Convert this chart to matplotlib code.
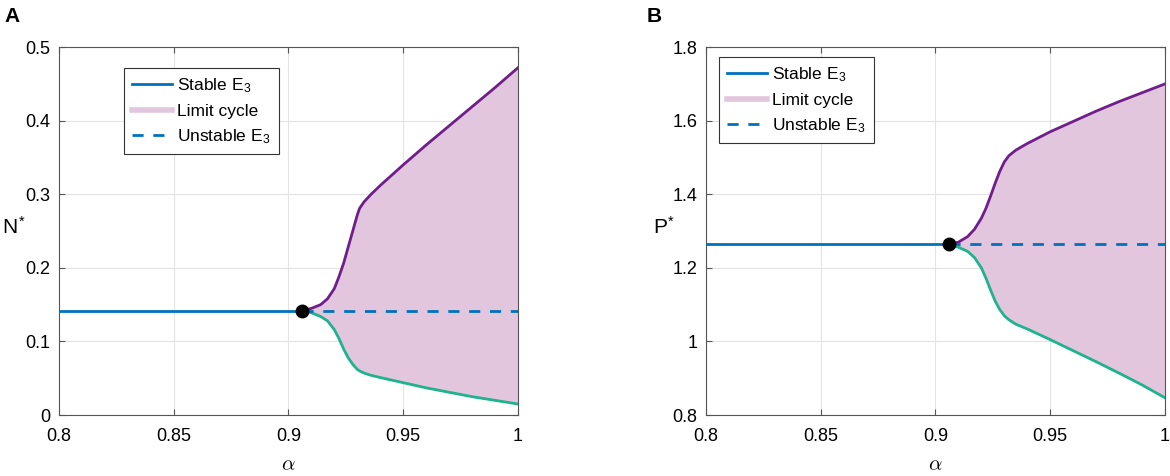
import matplotlib
matplotlib.use('Agg')
import matplotlib.pyplot as plt
from matplotlib.lines import Line2D

plt.rcParams['font.family'] = ['Liberation Sans', 'DejaVu Sans']
plt.rcParams['mathtext.fontset'] = 'cm'

# equilibrium values and Hopf point
alpha_stable = [0.8, 0.906]
alpha_unstable = [0.906, 1.0]
alpha_hopf = 0.906
N_eq = 0.142
P_eq = 1.264

# panel A: limit cycle bounds of N
alpha_N_up = [0.906, 0.910, 0.914, 0.917, 0.920, 0.922, 0.924, 0.926, 0.928, 0.930,
              0.931, 0.933, 0.936, 0.940, 0.950, 0.960, 0.970, 0.980, 0.990, 1.000]
N_up = [0.142, 0.145, 0.150, 0.158, 0.172, 0.188, 0.206, 0.228, 0.250, 0.272,
        0.281, 0.290, 0.300, 0.312, 0.340, 0.367, 0.393, 0.419, 0.445, 0.472]
N_low = [0.142, 0.139, 0.134, 0.128, 0.116, 0.104, 0.090, 0.078, 0.069, 0.062,
         0.060, 0.057, 0.054, 0.051, 0.044, 0.037, 0.031, 0.025, 0.020, 0.015]

# panel B: limit cycle bounds of P
alpha_P = [0.906, 0.910, 0.914, 0.917, 0.920, 0.922, 0.924, 0.926, 0.928, 0.930,
           0.932, 0.935, 0.940, 0.950, 0.960, 0.970, 0.980, 0.990, 1.000]
P_up = [1.264, 1.270, 1.285, 1.305, 1.335, 1.362, 1.395, 1.430, 1.462, 1.488,
        1.505, 1.520, 1.538, 1.570, 1.598, 1.626, 1.652, 1.676, 1.700]
P_low = [1.264, 1.256, 1.245, 1.228, 1.200, 1.172, 1.140, 1.110, 1.087, 1.070,
         1.059, 1.047, 1.034, 1.005, 0.975, 0.945, 0.914, 0.882, 0.847]

blue = '#0072BD'
purple = '#6F1E8A'
teal = '#1DB38C'
pink = '#E2C6DD'

fig = plt.figure(figsize=(11.7, 4.76), dpi=100)
axA = fig.add_axes([0.0504, 0.128, 0.3923, 0.773])
axB = fig.add_axes([0.6034, 0.128, 0.3923, 0.773])


def draw(ax, a, up, low, eq, ylim, yticks, yticklabels, ylab, ylab_x, leg_xy):
    ax.fill_between(a, low, up, color=pink, lw=0, zorder=1)
    ax.plot(a, up, color=purple, lw=2, zorder=3)
    ax.plot(a, low, color=teal, lw=2, zorder=3)
    ax.plot(alpha_stable, [eq, eq], color=blue, lw=2, zorder=4)
    ax.plot(alpha_unstable, [eq, eq], color=blue, lw=2, ls=(0, (4, 3.5)), zorder=4)
    ax.plot([alpha_hopf], [eq], 'o', color='black', ms=9, zorder=5)
    ax.set_xlim(0.8, 1.0)
    ax.set_ylim(*ylim)
    ax.set_xticks([0.8, 0.85, 0.9, 0.95, 1.0])
    ax.set_xticklabels(['0.8', '0.85', '0.9', '0.95', '1'])
    ax.set_yticks(yticks)
    ax.set_yticklabels(yticklabels)
    ax.grid(True, color='#E3E3E3', lw=0.8, zorder=0)
    ax.set_axisbelow(True)
    ax.tick_params(direction='in', length=4, labelsize=13, top=True, right=True,
                   color='#555555')
    ax.tick_params(axis='x', pad=9)
    ax.tick_params(axis='y', pad=6)
    for s in ax.spines.values():
        s.set_color('#555555')
        s.set_linewidth(0.8)
    ax.set_xlabel(r'$\alpha$', fontsize=15, labelpad=8)
    ax.set_ylabel(ylab, fontsize=15, rotation=0, ha='center', va='center')
    ax.yaxis.set_label_coords(ylab_x, 0.51)
    handles = [Line2D([], [], color=blue, lw=2),
               Line2D([], [], color=pink, lw=4),
               Line2D([], [], color=blue, lw=2, ls=(0, (4, 3.5)))]
    labels = [r'Stable E$_\mathregular{3}$', 'Limit cycle',
              r'Unstable E$_\mathregular{3}$']
    leg = ax.legend(handles, labels, loc='upper left', bbox_to_anchor=leg_xy,
                    fontsize=12.5, fancybox=False, framealpha=1, edgecolor='#333333',
                    handlelength=2.3, handletextpad=0.3, borderpad=0.45,
                    labelspacing=0.5, borderaxespad=0)
    leg.get_frame().set_linewidth(0.8)


draw(axA, alpha_N_up, N_up, N_low, N_eq, (0, 0.5),
     [0, 0.1, 0.2, 0.3, 0.4, 0.5], ['0', '0.1', '0.2', '0.3', '0.4', '0.5'],
     r'N$^{\mathregular{*}}$', -0.098, (0.142, 0.943))
draw(axB, alpha_P, P_up, P_low, P_eq, (0.8, 1.8),
     [0.8, 1.0, 1.2, 1.4, 1.6, 1.8], ['0.8', '1', '1.2', '1.4', '1.6', '1.8'],
     r'P$^{\mathregular{*}}$', -0.092, (0.028, 0.973))

fig.text(0.004, 0.985, 'A', fontsize=15, fontweight='bold', va='top')
fig.text(0.553, 0.985, 'B', fontsize=15, fontweight='bold', va='top')

fig.savefig('out.png', dpi=100)
